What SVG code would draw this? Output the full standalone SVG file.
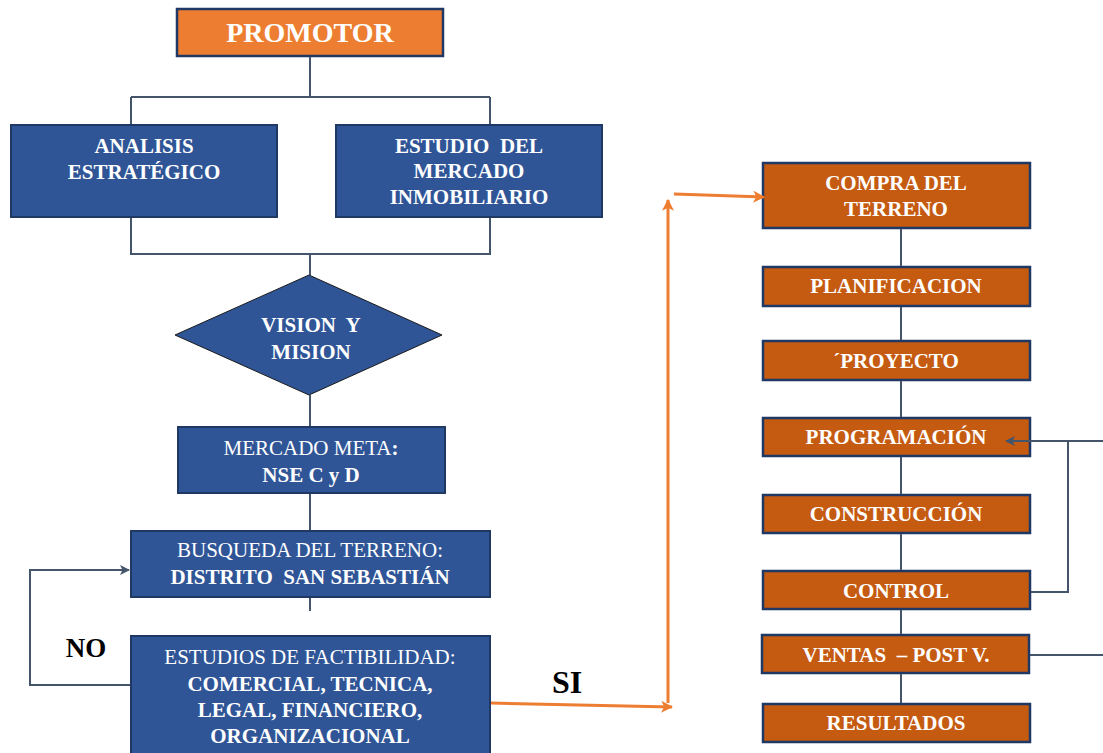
<svg xmlns="http://www.w3.org/2000/svg" width="1103" height="753" viewBox="0 0 1103 753">
  <defs>
    <style>
      .blue { fill: #2F5597; stroke: #1F3864; stroke-width: 2; }
      .rust { fill: #C55A11; stroke: #1F3864; stroke-width: 2.5; }
      .top { fill: #ED7D31; stroke: #1F3864; stroke-width: 2.5; }
      .diamond { fill: #2F5597; stroke: #1a1a1a; stroke-width: 1; }
      .link { fill: none; stroke: #44546A; stroke-width: 2; }
      .flow { fill: none; stroke: #ED7D31; stroke-width: 3; }
      text { font-family: "Liberation Serif", "Times New Roman", serif; fill: #ffffff; text-anchor: middle; white-space: pre; }
      .b { font-weight: bold; font-size: 21px; }
      .r { font-weight: normal; font-size: 21px; }
      .lbl { fill: #000000; font-weight: bold; }
    </style>
    <marker id="slateHead" viewBox="0 0 10 10" refX="9" refY="5" markerWidth="5" markerHeight="5" orient="auto" markerUnits="strokeWidth">
      <path d="M0,0 L10,5 L0,10 L2.5,5 z" fill="#44546A"/>
    </marker>
    <marker id="orangeHead" viewBox="0 0 10 10" refX="9" refY="5" markerWidth="4" markerHeight="4" orient="auto" markerUnits="strokeWidth">
      <path d="M0,0 L10,5 L0,10 L2.5,5 z" fill="#ED7D31"/>
    </marker>
  </defs>

  <rect width="1103" height="753" fill="#ffffff"/>

  <g id="promotor">
    <rect class="top" x="177" y="9" width="266" height="47"/>
    <text x="310" y="42" font-size="28" font-weight="bold">PROMOTOR</text>
  </g>

  <g id="analisis">
    <rect class="blue" x="11" y="125" width="266" height="92"/>
    <text class="b" x="144" y="153">ANALISIS</text>
    <text class="b" x="144" y="179">ESTRATÉGICO</text>
  </g>

  <g id="estudio-mercado">
    <rect class="blue" x="336" y="125" width="266" height="92"/>
    <text class="b" x="469" y="153">ESTUDIO  DEL</text>
    <text class="b" x="469" y="178">MERCADO</text>
    <text class="b" x="469" y="204">INMOBILIARIO</text>
  </g>

  <g id="vision">
    <polygon class="diamond" points="309,275 442,335 309,395 175,335"/>
    <text class="b" x="311" y="332">VISION  Y</text>
    <text class="b" x="311" y="359">MISION</text>
  </g>

  <g id="mercado-meta">
    <rect class="blue" x="178" y="427" width="267" height="66"/>
    <text class="r" x="311" y="455">MERCADO META<tspan font-weight="bold">:</tspan></text>
    <text class="b" x="311" y="482">NSE C y D</text>
  </g>

  <g id="busqueda">
    <rect class="blue" x="131" y="531" width="359" height="66"/>
    <text class="r" x="310" y="557">BUSQUEDA DEL TERRENO:</text>
    <text class="b" x="310" y="584">DISTRITO  SAN SEBASTIÁN</text>
  </g>

  <g id="factibilidad">
    <rect class="blue" x="131" y="636" width="359" height="130"/>
    <text class="r" x="310" y="664">ESTUDIOS DE FACTIBILIDAD:</text>
    <text class="b" x="310" y="691">COMERCIAL, TECNICA,</text>
    <text class="b" x="310" y="717">LEGAL, FINANCIERO,</text>
    <text class="b" x="310" y="743">ORGANIZACIONAL</text>
  </g>

  <g id="labels">
    <text class="lbl" x="86" y="657" font-size="27">NO</text>
    <text class="lbl" x="567" y="693" font-size="32">SI</text>
  </g>

  <g id="compra">
    <rect class="rust" x="763" y="163" width="267" height="65"/>
    <text class="b" x="896" y="190">COMPRA DEL</text>
    <text class="b" x="896" y="216">TERRENO</text>
  </g>

  <g id="planificacion">
    <rect class="rust" x="763" y="267" width="267" height="39"/>
    <text class="b" x="896" y="293">PLANIFICACION</text>
  </g>

  <g id="proyecto">
    <rect class="rust" x="763" y="341" width="267" height="39"/>
    <text class="b" x="896" y="368">´PROYECTO</text>
  </g>

  <g id="programacion">
    <rect class="rust" x="763" y="418" width="267" height="38"/>
    <text class="b" x="896" y="444">PROGRAMACIÓN</text>
  </g>

  <g id="construccion">
    <rect class="rust" x="763" y="495" width="267" height="38"/>
    <text class="b" x="896" y="521">CONSTRUCCIÓN</text>
  </g>

  <g id="control">
    <rect class="rust" x="763" y="571" width="267" height="38"/>
    <text class="b" x="896" y="598">CONTROL</text>
  </g>

  <g id="ventas">
    <rect class="rust" x="762" y="635" width="267" height="38"/>
    <text class="b" x="896" y="662">VENTAS  – POST V.</text>
  </g>

  <g id="resultados">
    <rect class="rust" x="763" y="704" width="267" height="38"/>
    <text class="b" x="896" y="730">RESULTADOS</text>
  </g>

  <!-- connectors, drawn last so the feedback arrow sits on top of its box -->
  <g id="connectors">
    <!-- promotor split and merge -->
    <path class="link" d="M310,57 V97 M131,97 H490 M131,97 V124 M490,97 V124"/>
    <path class="link" d="M131,218 V254 H490 V218 M310,254 V275"/>
    <path class="link" d="M310,395 V426 M310,494 V530 M310,598 V611"/>
    <!-- NO loop back to land search -->
    <path class="link" d="M130,685 H30 V570 H129" marker-end="url(#slateHead)"/>
    <!-- SI path to land purchase -->
    <path class="flow" d="M491,703 L672,707" marker-end="url(#orangeHead)"/>
    <path class="flow" d="M668,703 V200" marker-end="url(#orangeHead)"/>
    <path class="flow" d="M674,194 L764,197" marker-end="url(#orangeHead)"/>
    <!-- execution chain -->
    <path class="link" d="M901,229 V266 M901,307 V340 M901,381 V417 M901,457 V494 M901,534 V570 M901,610 V634 M901,674 V703"/>
    <!-- control feedback -->
    <path class="link" d="M1031,592 H1068 V441"/>
    <path class="link" d="M1103,441 H1006" marker-end="url(#slateHead)"/>
    <path class="link" d="M1030,655 H1103"/>
  </g>
</svg>
